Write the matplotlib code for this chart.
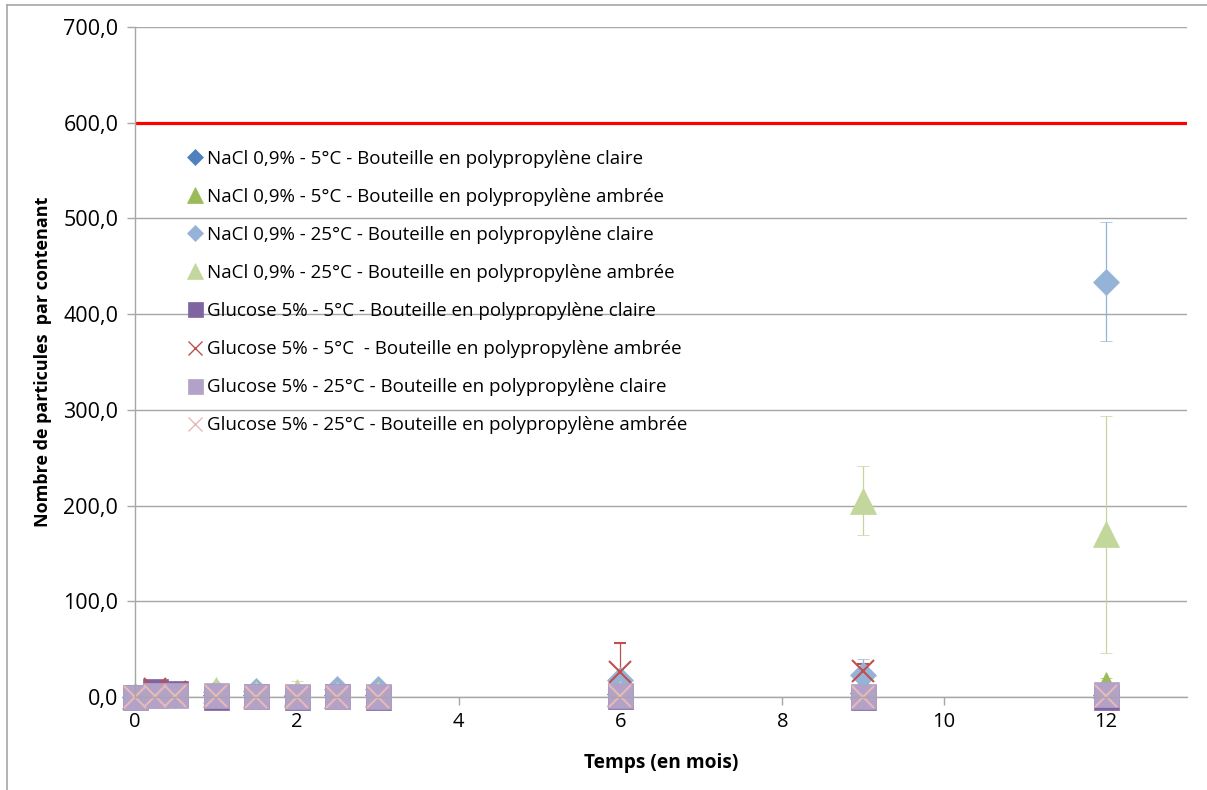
import numpy as np
import matplotlib
matplotlib.use("Agg")
import matplotlib.pyplot as plt
from matplotlib.lines import Line2D
from matplotlib.ticker import FuncFormatter

plt.rcParams['font.family'] = ['Open Sans', 'DejaVu Sans']

# time points (months)
temps = [0, 0.25, 0.5, 1, 1.5, 2, 2.5, 3, 6, 9, 12]

labels = [
    "NaCl 0,9% - 5°C - Bouteille en polypropylène claire",
    "NaCl 0,9% - 5°C - Bouteille en polypropylène ambrée",
    "NaCl 0,9% - 25°C - Bouteille en polypropylène claire",
    "NaCl 0,9% - 25°C - Bouteille en polypropylène ambrée",
    "Glucose 5% - 5°C - Bouteille en polypropylène claire",
    "Glucose 5% - 5°C  - Bouteille en polypropylène ambrée",
    "Glucose 5% - 25°C - Bouteille en polypropylène claire",
    "Glucose 5% - 25°C - Bouteille en polypropylène ambrée",
]

nacl_5_claire = [0, 3, 2, 2, 2, 1, 2, 2, 3, 4, 2]
nacl_5_claire_err = [0, 1, 1, 1, 1, 1, 1, 1, 2, 2, 1]
nacl_5_ambree = [1, 2, 3, 3, 2, 3, 2, 3, 4, 11, 13]
nacl_5_ambree_err = [0, 1, 1, 1, 1, 1, 1, 1, 2, 3, 7]
nacl_25_claire = [0, 2, 2, 5, 6, 2, 8, 8, 18, 23, 434]
nacl_25_claire_err = [0, 1, 1, 2, 2, 1, 2, 2, 4, 17, 62]
nacl_25_ambree = [1, 2, 3, 7, 3, 5, 2, 3, 3, 205, 170]
nacl_25_ambree_err = [0, 1, 1, 2, 1, 12, 1, 1, 2, 36, 124]
glu_5_claire = [0, 6, 4, 0, 1, 0, 1, 0, 1, 0, 0]
glu_5_claire_err = [0, 1, 1, 1, 1, 1, 1, 1, 1, 1, 1]
glu_5_ambree = [0, 8, 5, 1, 1, 0, 0, 0, 26, 27, 2]
glu_5_ambree_err = [0, 2, 2, 1, 1, 1, 1, 1, 30, 8, 1]
glu_25_claire = [0, 2, 2, 2, 1, 1, 1, 1, 2, 1, 3]
glu_25_claire_err = [0, 1, 1, 1, 1, 1, 1, 1, 1, 1, 1]
glu_25_ambree = [0, 1, 1, 1, 0, 0, 0, 0, 1, 0, 1]
glu_25_ambree_err = [0, 1, 1, 1, 1, 1, 1, 1, 1, 1, 1]

limite = 600

series = [
    (nacl_5_claire, nacl_5_claire_err, '#4F81BD', 'D', 13),
    (nacl_5_ambree, nacl_5_ambree_err, '#9BBB59', '^', 19),
    (nacl_25_claire, nacl_25_claire_err, '#95B3D7', 'D', 13),
    (nacl_25_ambree, nacl_25_ambree_err, '#C3D69B', '^', 19),
    (glu_5_claire, glu_5_claire_err, '#8064A2', 's', 18),
    (glu_5_ambree, glu_5_ambree_err, '#C0504D', 'x', 16),
    (glu_25_claire, glu_25_claire_err, '#B3A2C7', 's', 18),
    (glu_25_ambree, glu_25_ambree_err, '#E6B9B8', 'x', 16),
]

fig = plt.figure(figsize=(12.07, 7.9), dpi=100)
ax = fig.add_axes([0.1118, 0.1177, 0.9834 - 0.1118, 0.9658 - 0.1177])

handles = []
for (vals, err, col, mk, ms), lab in zip(series, labels):
    eb = ax.errorbar(temps, vals, yerr=err, fmt=mk, color=col, ecolor=col,
                     elinewidth=0.9, capsize=4, capthick=0.9, markersize=ms,
                     markeredgewidth=1.5 if mk == 'x' else 0.5, linestyle='none')
    arts = [eb.lines[0]] + list(eb.lines[1]) + list(eb.lines[2])
    for a in arts:
        a.set_clip_on(False)
    handles.append(Line2D([], [], marker=mk, color=col, linestyle='none',
                          markersize=ms * 0.6,
                          markeredgewidth=1.0 if mk == 'x' else 0.5,
                          label=lab))

ax.axhline(limite, color='#FF0000', lw=2.3, zorder=1)

ax.set_xlim(0, 13)
ax.set_ylim(0, 700)
ax.set_xticks(np.arange(0, 13, 2))
ax.set_yticks(np.arange(0, 701, 100))
ax.yaxis.set_major_formatter(FuncFormatter(lambda v, p: f"{v:.1f}".replace('.', ',')))
ax.grid(axis='y', color='#A6A6A6', lw=1.0, zorder=0)
ax.set_axisbelow(True)
for s in ['top', 'right']:
    ax.spines[s].set_visible(False)
for s in ['left', 'bottom']:
    ax.spines[s].set_color('#A6A6A6')
    ax.spines[s].set_linewidth(1.0)
ax.tick_params(axis='both', colors='#A6A6A6', labelcolor='black',
               length=6, width=1.0)
ax.tick_params(axis='y', pad=6, labelsize=15.5)
ax.tick_params(axis='x', pad=5, labelsize=14.5)

ax.set_xlabel("Temps (en mois)", fontsize=13.8, fontweight='bold', labelpad=15)
ax.set_ylabel("Nombre de particules  par contenant", fontsize=13, fontweight='bold', labelpad=8)

ax.legend(handles=handles, loc='upper left', bbox_to_anchor=(0.04, 0.828),
          frameon=False, fontsize=13.5, labelspacing=1.07, handletextpad=0.1,
          handlelength=1.1, borderaxespad=0)

# outer chart border (left and top)
fig.add_artist(Line2D([7 / 1207, 7 / 1207], [0, 1 - 5 / 790], color='#A6A6A6', lw=1.2))
fig.add_artist(Line2D([7 / 1207, 1], [1 - 5 / 790, 1 - 5 / 790], color='#A6A6A6', lw=1.2))

fig.savefig("out.png", dpi=100)
